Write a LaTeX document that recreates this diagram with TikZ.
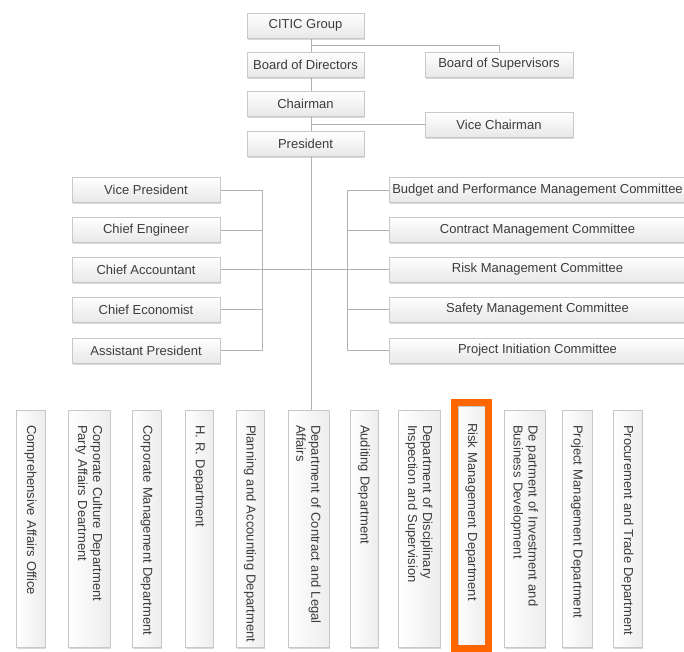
\documentclass[tikz,border=0pt]{standalone}
\usepackage{fontspec}
\setmainfont{Liberation Sans}
\usetikzlibrary{shadows,backgrounds}
\definecolor{hilite}{RGB}{255,102,0}
\definecolor{linegray}{RGB}{178,178,178}
\definecolor{boxline}{RGB}{200,200,200}
\definecolor{txtgray}{RGB}{60,60,60}
\tikzset{
  box/.style={draw=boxline, top color=white, bottom color=black!9,
    minimum height=25pt, inner sep=0pt, text=txtgray,
    font=\fontsize{13}{15}\selectfont,
    drop shadow={shadow xshift=1pt, shadow yshift=-1.5pt, opacity=0.3, fill=black!50}},
  vbox/.style={box, rotate=-90, left color=white, right color=black!7,
    text width=231pt, inner xsep=3pt, inner ysep=0pt, align=left,
    execute at begin node={\leftskip=12pt\hyphenpenalty=10000\relax},
    minimum height=29pt},
  conn/.style={draw=linegray, line width=0.9pt}
}

\begin{document}
\begin{tikzpicture}[x=1pt,y=-1pt]
\useasboundingbox (0,0) rectangle (684,651);

% top of the chart
\node[box, minimum width=117pt] (citic) at (305.5,25.5) {CITIC Group};
\node[box, minimum width=117pt] (bod) at (305.5,64.5) {Board of Directors};
\node[box, minimum width=148pt] (bos) at (499,64.5) {Board of Supervisors};
\node[box, minimum width=117pt] (chair) at (305.5,103.5) {Chairman};
\node[box, minimum width=148pt] (vc) at (499,124.5) {Vice Chairman};
\node[box, minimum width=117pt] (pres) at (305.5,144) {President};

% left column
\node[box, minimum width=148pt] (vp) at (146,190) {Vice President};
\node[box, minimum width=148pt] (ce) at (146,230) {Chief Engineer};
\node[box, minimum width=148pt] (ca) at (146,269.5) {Chief Accountant};
\node[box, minimum width=148pt] (ceco) at (146,309.5) {Chief Economist};
\node[box, minimum width=148pt] (ap) at (146,350.5) {Assistant President};

% committees
\node[box, minimum width=297pt] (bpmc) at (537.5,190) {Budget and Performance Management Committee};
\node[box, minimum width=297pt] (cmc) at (537.5,230) {Contract Management Committee};
\node[box, minimum width=297pt] (rmc) at (537.5,269.5) {Risk Management Committee};
\node[box, minimum width=297pt] (smc) at (537.5,309.5) {Safety Management Committee};
\node[box, minimum width=297pt] (pic) at (537.5,350.5) {Project Initiation Committee};

% departments
\node[vbox] (cao) at (30.5,528.5) {Comprehensive Affairs Office};
\node[vbox, minimum height=42pt] (ccd) at (89,528.5) {Corporate Culture Department\\Party Affairs Deartment};
\node[vbox] (cmd) at (146.5,528.5) {Corporate Management Department};
\node[vbox, minimum height=28pt] (hrd) at (199,528.5) {H. R. Department};
\node[vbox, minimum height=28pt] (pad) at (250,528.5) {Planning and Accounting Department};
\node[vbox, minimum height=41pt] (dcl) at (308.5,528.5) {Department of Contract and Legal\\Affairs};
\node[vbox, minimum height=28pt] (aud) at (364,528.5) {Auditing Department};
\node[vbox, minimum height=42pt] (dis) at (419,528.5) {Department of Disciplinary\\Inspection and Supervision};
\node[vbox, minimum height=27pt, minimum width=241pt] (rmd) at (471.5,526.5) {Risk Management Department};
\node[vbox, minimum height=41pt] (dib) at (524.5,528.5) {De partment of Investment and\\Business Development};
\node[vbox, minimum height=30pt] (pmd) at (577,528.5) {Project Management Department};
\node[vbox] (ptd) at (627.5,528.5) {Procurement and Trade Department};

\coordinate (t) at (311.5,0);
\coordinate (lb) at (262,0);
\coordinate (rb) at (347,0);
\coordinate (j1) at (311.5,45);

\begin{scope}[on background layer]
% trunk
\draw[conn] (citic.south -| t) -- (dcl.west -| t);
\draw[conn] (j1) -| (bos.north);
\draw[conn] (vc.west) -- (vc.west -| t);
% vice presidents
\draw[conn] (vp.east) -- (vp.east -| lb) -- (ap.east -| lb) -- (ap.east);
\draw[conn] (ce.east) -- (ce.east -| lb);
\draw[conn] (ceco.east) -- (ceco.east -| lb);
\draw[conn] (ca.east) -- (rmc.west);
% committees
\draw[conn] (bpmc.west) -- (bpmc.west -| rb) -- (pic.west -| rb) -- (pic.west);
\draw[conn] (cmc.west) -- (cmc.west -| rb);
\draw[conn] (smc.west) -- (smc.west -| rb);
\end{scope}

% highlight
\draw[hilite, line width=7pt] (454.5,402.5) rectangle (488,648);
\end{tikzpicture}
\end{document}
